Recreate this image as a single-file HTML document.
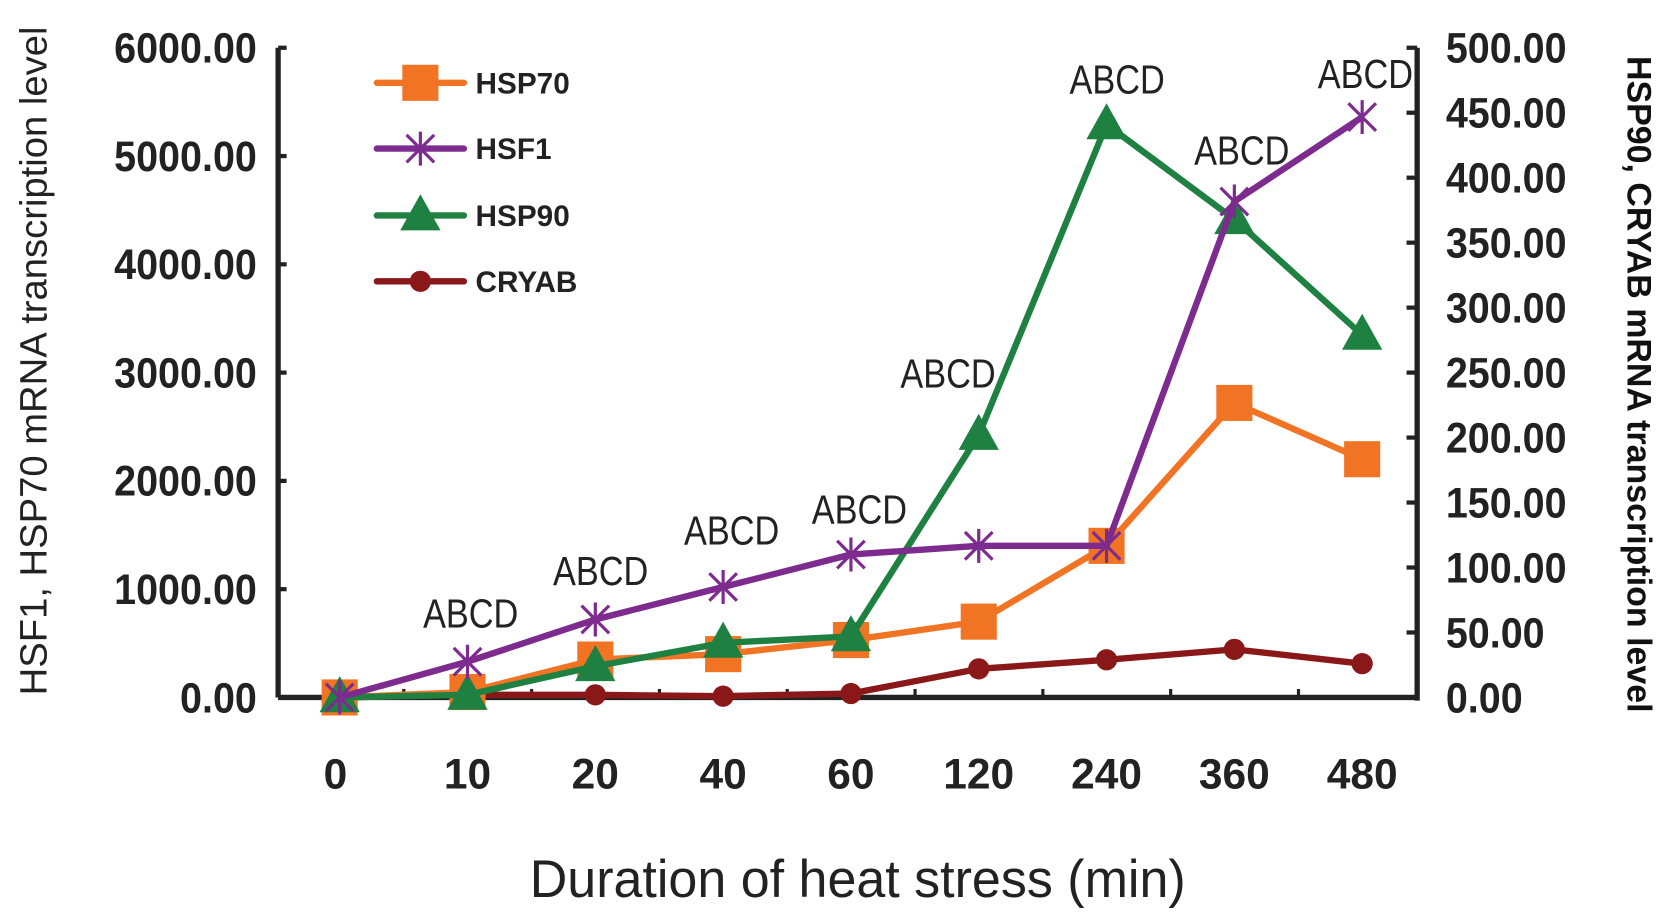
<!DOCTYPE html>
<html><head><meta charset="utf-8"><style>
html,body{margin:0;padding:0;background:#fff;}
svg{display:block;}
text{font-family:"Liberation Sans",sans-serif;}
</style></head><body>
<svg id="chart" width="1656" height="914" viewBox="0 0 1560 861" preserveAspectRatio="none" xmlns="http://www.w3.org/2000/svg">
<g id="axes"></g>
<g id="series"></g>
<g id="legend"></g>
<text x="808" y="845" text-anchor="middle" font-size="50" fill="#222" transform="translate(808 0) scale(0.98 1) translate(-808 0)">Duration of heat stress (min)</text>
<text transform="translate(44 340) rotate(-90)" text-anchor="middle" font-size="36" fill="#222">HSF1, HSP70 mRNA transcription level</text>
<text transform="translate(1533 362) rotate(90)" text-anchor="middle" font-size="32" font-weight="bold" fill="#111">HSP90, CRYAB mRNA transcription level</text>
</svg>
<script>
const categories = ["0","10","20","40","60","120","240","360","480"];
const leftTicks = [0,1000,2000,3000,4000,5000,6000];
const rightTicks = [0,50,100,150,200,250,300,350,400,450,500];
const hsp70 = [0,50,350,400,530,700,1400,2720,2200];
const hsf1 = [0,330,720,1020,1320,1400,1400,4580,5360];
const hsp90 = [0,2,24,42,47,202,441,368,279];
const cryab = [0,2,2,1,3,22,29,37,26];
const sigLabels = ["","ABCD","ABCD","ABCD","ABCD","ABCD","ABCD","ABCD","ABCD"];
const sigY = [0,578,538,500,480,352,75,142,70];
const sigDx = [0,3,5,8,8,-29,10,7,3];

const NS="http://www.w3.org/2000/svg";
const X0=262, X1=1335, Y0=657, YT=45;
const xs = i => 320 + i*120.4;
const yL = v => Y0 - v/6000*(Y0-YT);
const yR = v => Y0 - v/500*(Y0-YT);
function mk(tag, attrs, parent){const e=document.createElementNS(NS,tag);for(const k in attrs)e.setAttribute(k,attrs[k]);parent.appendChild(e);return e;}
const axes=document.getElementById('axes'), ser=document.getElementById('series'), leg=document.getElementById('legend');

let e;
e=mk('line',{x1:X0,y1:YT,x2:X0,y2:Y0,stroke:'#222','stroke-width':5},axes);


e=mk('line',{x1:X1,y1:YT,x2:X1,y2:Y0+3,stroke:'#222','stroke-width':5},axes);


e=mk('line',{x1:X0,y1:Y0,x2:X1,y2:Y0,stroke:'#222','stroke-width':5},axes);



leftTicks.forEach(v=>{
  const y=yL(v);
  e=mk('line',{x1:X0,y1:y,x2:X0+8,y2:y,stroke:'#222','stroke-width':4},axes);
  
  
  e=mk('text',{x:242,y:y+14,'text-anchor':'end','font-size':40,'font-weight':'bold',fill:'#222',transform:`translate(242 0) scale(0.93 1) translate(-242 0)`},axes);
  e.textContent=v.toFixed(2);
  
  
});
rightTicks.forEach(v=>{
  const y=yR(v);
  e=mk('line',{x1:X1-10,y1:y,x2:X1,y2:y,stroke:'#222','stroke-width':4},axes);
  
  
  e=mk('text',{x:1362,y:y+14,'font-size':40,'font-weight':'bold',fill:'#222',transform:`translate(1362 0) scale(0.93 1) translate(-1362 0)`},axes);
  e.textContent=v.toFixed(2);
  
  
});
categories.forEach((c,i)=>{
  const x=xs(i)+(i>0?0:-4);
  if(i>0){
    e=mk('line',{x1:xs(i)-60,y1:Y0,x2:xs(i)-60,y2:Y0-8,stroke:'#222','stroke-width':3},axes);
    
    
  }
  e=mk('text',{x:x,y:743,'text-anchor':'middle','font-size':40,'font-weight':'bold',fill:'#222'},axes);
  e.textContent=c;
  
  
});

function marker(type,x,y,color,g){
  if(type==='square') return mk('rect',{x:x-17,y:y-17,width:34,height:34,fill:color},g);
  if(type==='tri') return mk('polygon',{points:`${x},${y-20} ${x+19},${y+14} ${x-19},${y+14}`,fill:color},g);
  if(type==='dot') return mk('circle',{cx:x,cy:y,r:10,fill:color},g);
  const p=mk('path',{d:`M${x-13} ${y-13}L${x+13} ${y+13}M${x+13} ${y-13}L${x-13} ${y+13}M${x} ${y-16}L${x} ${y+16}`,stroke:color,'stroke-width':3,fill:'none'},g);
  return p;
}
function series(name,data,scale,color,type,w){
  const g=mk('g',{},ser);
  
  
  const pts=data.map((v,i)=>xs(i)+','+scale(v)).join(' ');
  e=mk('polyline',{points:pts,fill:'none',stroke:color,'stroke-width':w,'stroke-linejoin':'round'},g);
  
  
  data.forEach((v,i)=>{
    e=marker(type,xs(i),scale(v),color,g);
    
    
  });
}
series('cryab',cryab,yR,'#8a1818','dot',6);
series('hsp70',hsp70,yL,'#f07424','square',6);
series('hsp90',hsp90,yR,'#1e8142','tri',6);
series('hsf1',hsf1,yL,'#7d2b8e','star',6);

sigLabels.forEach((s,i)=>{
  if(!s) return;
  const x=xs(i)+sigDx[i];
  e=mk('text',{x:0,y:0,'text-anchor':'middle','font-size':38,fill:'#222',transform:`translate(${x} ${sigY[i]+13}) scale(0.85 1)`},ser);
  e.textContent=s;
  
  
});

const legItems=[['HSP70','#f07424','square'],['HSF1','#7d2b8e','star'],['HSP90','#1e8142','tri'],['CRYAB','#8a1818','dot']];
const legY=[78,140,203,265];
legItems.forEach((it,i)=>{
  const g=mk('g',{},leg);
  
  
  mk('line',{x1:355,y1:legY[i],x2:437,y2:legY[i],stroke:it[1],'stroke-width':6,'stroke-linecap':'round'},g);
  marker(it[2],396,legY[i],it[1],g);
  const t=mk('text',{x:448,y:legY[i]+10,'font-size':28,'font-weight':'bold',fill:'#222'},g);
  t.textContent=it[0];
});
</script>
</body></html>
